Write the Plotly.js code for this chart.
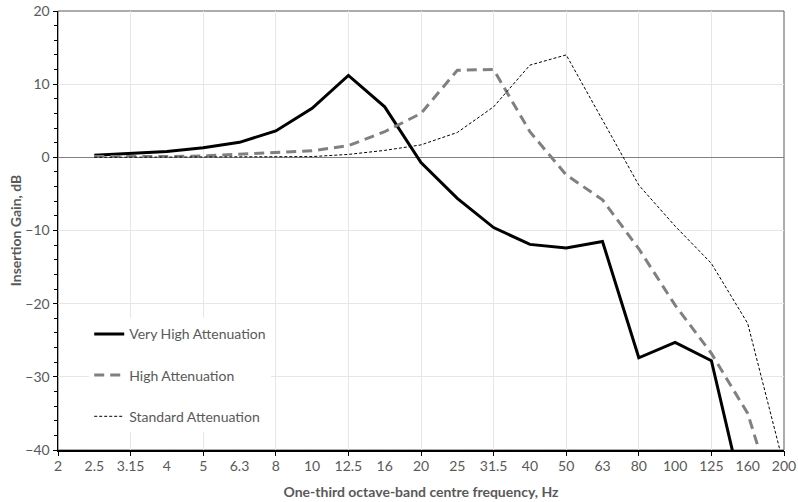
<!DOCTYPE html>
<html>
<head>
<meta charset="utf-8">
<script src="https://cdn.plot.ly/plotly-3.0.1.min.js"></script>
<style>html,body{margin:0;padding:0;background:#fff;}#chart{width:798px;height:502px;}</style>
</head>
<body>
<div id="chart"></div>
<script>
const bands = ["2","2.5","3.15","4","5","6.3","8","10","12.5","16","20","25","31.5","40","50","63","80","100","125","160","200"];
const veryHigh = [null,0.3,0.5,0.8,1.3,2.05,3.6,6.7,11.2,6.9,-0.7,-5.6,-9.6,-11.9,-12.4,-11.5,-27.4,-25.3,-27.8,-49,null];
const high = [null,0.1,0.05,0.1,0.2,0.4,0.6,0.9,1.6,3.5,6.0,11.9,12.0,3.5,-2.4,-5.8,-12.5,-20.2,-26.8,-35,-51];
const standard = [null,0,0,0,0,0,0.05,0.1,0.4,0.95,1.7,3.4,6.9,12.6,14.0,5.1,-3.8,-9.4,-14.5,-22.7,-42.2];
const names = ["Very High Attenuation","High Attenuation","Standard Attenuation"];

const idx = bands.map((b,i)=>i);
const evenIdx = idx.filter(i=>i%2===0);
const font = "Lato, 'Open Sans', sans-serif";
const grey = "#595959";

const traces = [
  {x: idx, y: veryHigh, name: names[0], mode: "lines", line: {color: "#000000", width: 3}, legendgroup: "a"},
  {x: idx, y: high, name: names[1], mode: "lines", line: {color: "#808080", width: 3, dash: "10px,6px"}, legendgroup: "b"},
  {x: idx, y: standard, name: names[2], mode: "lines", line: {color: "#000000", width: 1, dash: "3px,2px"}, legendgroup: "c"},
  {x: [0], y: [null], xaxis: "x2", showlegend: false, hoverinfo: "skip", mode: "lines"}
];

const layout = {
  width: 798, height: 502,
  margin: {l: 58, r: 14, t: 11, b: 52},
  paper_bgcolor: "#ffffff", plot_bgcolor: "#ffffff",
  font: {family: font, color: grey, size: 14},
  showlegend: true,
  legend: {
    x: 0.043, y: 0.30, xanchor: "left", yanchor: "top",
    bgcolor: "#ffffff", traceorder: "grouped", tracegroupgap: 20,
    font: {family: font, size: 14, color: grey}
  },
  xaxis: {
    range: [0, 20], tickvals: idx, ticktext: bands, ticks: "",
    showgrid: false, zeroline: false, showline: true, linecolor: "#000000", linewidth: 1.5,
    ticklabelstandoff: 3,
    tickfont: {family: font, size: 14, color: grey},
    title: {text: "One-third octave-band centre frequency, Hz", font: {family: font, size: 14, color: grey, weight: "bold"}, standoff: 14}
  },
  xaxis2: {
    overlaying: "x", side: "bottom", range: [0, 20], tickvals: evenIdx,
    showticklabels: false, ticks: "outside", ticklen: 5, tickcolor: "#000000", tickwidth: 1,
    showgrid: true, gridcolor: "#e6e6e6", gridwidth: 1, zeroline: false, showline: false
  },
  yaxis: {
    range: [-40, 20], dtick: 10, ticks: "outside", ticklen: 4, tickcolor: "#000000",
    minor: {dtick: 2, ticks: "outside", ticklen: 3, tickcolor: "#000000", showgrid: false},
    showgrid: true, gridcolor: "#e6e6e6", gridwidth: 1,
    zeroline: true, zerolinecolor: "#808080", zerolinewidth: 1.3,
    showline: true, linecolor: "#000000", linewidth: 1.5,
    tickfont: {family: font, size: 14, color: grey},
    title: {text: "Insertion Gain, dB", font: {family: font, size: 14, color: grey, weight: "bold"}, standoff: 0}
  },
  shapes: [
    {type: "rect", xref: "paper", yref: "paper", x0: 0, x1: 1, y0: 0, y1: 1, line: {color: "#595959", width: 1}, layer: "below"}
  ]
};

Plotly.newPlot("chart", traces, layout, {displayModeBar: false, staticPlot: true});
</script>
</body>
</html>
